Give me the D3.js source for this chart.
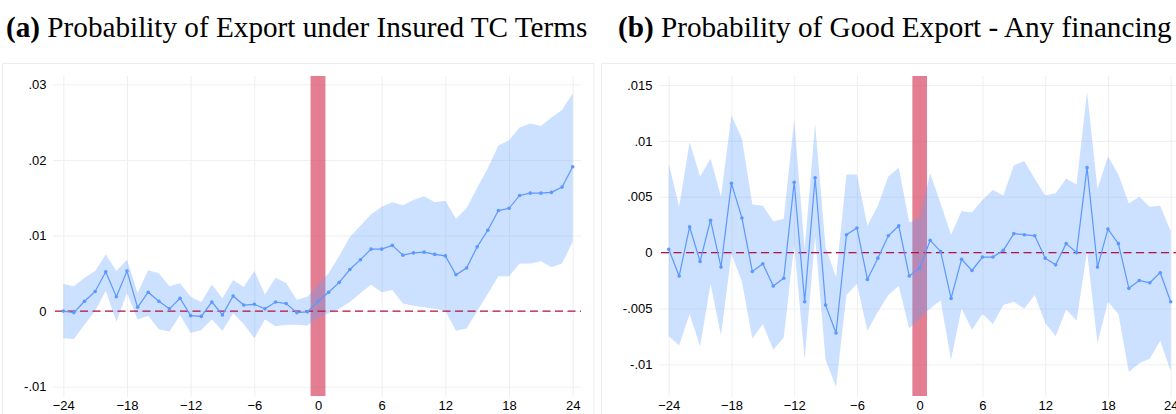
<!DOCTYPE html>
<html><head><meta charset="utf-8">
<script src="https://cdn.jsdelivr.net/npm/d3@7"></script>
<style>body{margin:0;background:#fff} svg{display:block}</style>
</head><body><svg id="chart" width="1176" height="414"></svg>
<script>
// ---------- data ----------
const periods = [-24,-23,-22,-21,-20,-19,-18,-17,-16,-15,-14,-13,-12,-11,-10,-9,-8,-7,-6,-5,-4,-3,-2,-1,0,1,2,3,4,5,6,7,8,9,10,11,12,13,14,15,16,17,18,19,20,21,22,23,24];
const xTicks = [-24,-18,-12,-6,0,6,12,18,24];

const titleATag = "(a)";
const titleAText = " Probability of Export under Insured TC Terms";
const titleBTag = "(b)";
const titleBText = " Probability of Good Export - Any financing";

const estA = [0,-0.0002,0.0013,0.0026,0.0052,0.0019,0.0053,0.0005,0.0025,0.0013,0.0003,0.0017,-0.0006,-0.0007,0.0012,-0.0005,0.0020,0.0008,0.0009,0.0003,0.0012,0.0010,-0.0002,-0.0001,
  0.0013,0.0025,0.0038,0.0055,0.0068,0.0082,0.0082,0.0087,0.0074,0.0077,0.0078,0.0075,0.0073,0.0048,0.0057,0.0085,0.0107,0.0133,0.0136,0.0153,0.0156,0.0156,0.0157,0.0164,0.0191];
const hiA = [0.0036,0.0033,0.0044,0.0053,0.0075,0.0053,0.0068,0.0024,0.0054,0.0050,0.0033,0.0037,0.0019,0.0012,0.0035,0.0017,0.0041,0.0032,0.0053,0.0022,0.0044,0.0037,0.0015,0.0019,
  0.0034,0.0050,0.0073,0.0098,0.0113,0.0128,0.0138,0.0144,0.0140,0.0147,0.0152,0.0144,0.0146,0.0122,0.0136,0.0163,0.0189,0.0219,0.0226,0.0243,0.0248,0.0245,0.0256,0.0266,0.0288];
const loA = [-0.0036,-0.0037,-0.0018,0.0000,0.0027,-0.0014,0.0024,-0.0011,-0.0006,-0.0024,-0.0027,-0.0005,-0.0029,-0.0025,-0.0011,-0.0026,-0.0003,-0.0017,-0.0036,-0.0011,-0.0020,-0.0018,-0.0018,-0.0019,
  -0.0009,-0.0003,0.0003,0.0012,0.0024,0.0035,0.0025,0.0028,0.0010,0.0007,0.0005,0.0003,0.0000,-0.0026,-0.0023,0.0000,0.0023,0.0046,0.0046,0.0063,0.0063,0.0066,0.0058,0.0063,0.0092];
const yTicksA = [-0.01,0,0.01,0.02,0.03];
const yLabelsA = ["-.01","0",".01",".02",".03"];

const estB = [0.0003,-0.0021,0.0023,-0.0008,0.0029,-0.0013,0.0062,0.0031,-0.0017,-0.0010,-0.0030,-0.0023,0.0063,-0.0044,0.0067,-0.0047,-0.0072,0.0016,0.0022,-0.0024,-0.0005,0.0015,0.0024,-0.0021,
  -0.0014,0.0011,0.0001,-0.0041,-0.0006,-0.0016,-0.0004,-0.0004,0.0002,0.0017,0.0016,0.0015,-0.0005,-0.0011,0.0008,0.0000,0.0076,-0.0013,0.0021,0.0008,-0.0032,-0.0025,-0.0027,-0.0018,-0.0044];
const hiB = [0.0080,0.0041,0.0099,0.0068,0.0084,0.0050,0.0123,0.0102,0.0043,0.0042,0.0028,0.0030,0.0119,0.0003,0.0115,0.0005,-0.0022,0.0070,0.0070,0.0024,0.0042,0.0068,0.0076,0.0027,
  0.0031,0.0071,0.0044,0.0016,0.0037,0.0036,0.0047,0.0056,0.0051,0.0078,0.0082,0.0066,0.0051,0.0053,0.0066,0.0061,0.0144,0.0057,0.0086,0.0070,0.0044,0.0050,0.0041,0.0042,0.0019];
const loB = [-0.0075,-0.0083,-0.0055,-0.0084,-0.0028,-0.0074,-0.0001,-0.0026,-0.0077,-0.0064,-0.0087,-0.0076,0.0007,-0.0096,0.0014,-0.0096,-0.0120,-0.0038,-0.0028,-0.0070,-0.0053,-0.0038,-0.0030,-0.0068,
  -0.0059,-0.0050,-0.0043,-0.0096,-0.0050,-0.0069,-0.0055,-0.0064,-0.0047,-0.0044,-0.0050,-0.0038,-0.0063,-0.0075,-0.0051,-0.0061,0.0001,-0.0081,-0.0044,-0.0055,-0.0107,-0.0099,-0.0095,-0.0079,-0.0106];
const yTicksB = [-0.01,-0.005,0,0.005,0.01,0.015];
const yLabelsB = ["-.01","-.005","0",".005",".01",".015"];

const eventWindow = [-0.7, 0.7];

// ---------- drawing ----------
const svg = d3.select("#chart");
const tickFont = "'Liberation Sans', Arial, sans-serif";
const serif = "'Liberation Serif', 'Times New Roman', serif";

function title(x, tag, text) {
  const t = svg.append("text").attr("x", x).attr("y", 37)
    .style("font-family", serif).style("font-size", "29.2px").attr("fill", "#000");
  t.append("tspan").attr("font-weight", "bold").text(tag);
  t.append("tspan").text(text);
}
title(6, titleATag, titleAText);
title(618, titleBTag, titleBText);

function panel(cfg) {
  const g = svg.append("g");
  const x = d3.scaleLinear().domain([-24, 24]).range(cfg.xr);
  const y = d3.scaleLinear().domain([cfg.yTicks[0], cfg.yTicks[cfg.yTicks.length-1]]).range(cfg.yr);

  // outer frame
  g.append("rect").attr("x", cfg.frame[0]).attr("y", cfg.frame[1]).attr("width", cfg.frame[2]).attr("height", cfg.frame[3])
    .attr("fill", "none").attr("stroke", "#ededed").attr("stroke-width", 1);

  // y grid
  g.append("g").attr("transform", `translate(${cfg.left},0)`)
    .call(d3.axisLeft(y).tickValues(cfg.yTicks).tickSize(-(cfg.right - cfg.left)).tickFormat(""))
    .call(a => a.select(".domain").remove())
    .call(a => a.selectAll("line").attr("stroke", "#efefef").attr("stroke-width", 1));
  // x grid
  g.append("g").attr("transform", `translate(0,${cfg.top})`)
    .call(d3.axisBottom(x).tickValues(xTicks).tickSize(cfg.bottom - cfg.top).tickFormat(""))
    .call(a => a.select(".domain").remove())
    .call(a => a.selectAll("line").attr("stroke", "#efefef").attr("stroke-width", 1));

  // y labels
  g.append("g").attr("transform", `translate(${cfg.left - 4},0)`)
    .call(d3.axisLeft(y).tickValues(cfg.yTicks).tickSize(0).tickPadding(2.5).tickFormat((d, i) => cfg.yLabels[i]))
    .call(a => a.select(".domain").remove())
    .call(a => a.selectAll("text").style("font-family", tickFont).style("font-size", "13px").attr("fill", "#000"));
  // x labels
  g.append("g").attr("transform", `translate(0,${cfg.bottom})`)
    .call(d3.axisBottom(x).tickValues(xTicks).tickSize(0).tickPadding(4))
    .call(a => a.select(".domain").remove())
    .call(a => a.selectAll("text").style("font-family", tickFont).style("font-size", "13px").attr("fill", "#000"));

  // event bar
  g.append("rect").attr("x", x(eventWindow[0])).attr("width", x(eventWindow[1]) - x(eventWindow[0]))
    .attr("y", cfg.top).attr("height", cfg.bottom - 1 - cfg.top)
    .attr("fill", "#d9536f").attr("fill-opacity", 0.75);

  const rows = periods.map((p, i) => ({p, e: cfg.est[i], hi: cfg.hi[i], lo: cfg.lo[i]}));
  // CI band
  g.append("path").datum(rows)
    .attr("d", d3.area().x(d => x(d.p)).y0(d => y(d.lo)).y1(d => y(d.hi)))
    .attr("fill", "rgb(100,160,255)").attr("fill-opacity", 0.33);
  // zero line
  g.append("line").attr("x1", cfg.left + 2).attr("x2", cfg.right).attr("y1", y(0)).attr("y2", y(0))
    .attr("stroke", "#b5123f").attr("stroke-width", 1.3).attr("stroke-dasharray", "8,4.5");
  // estimate line
  g.append("path").datum(rows)
    .attr("d", d3.line().x(d => x(d.p)).y(d => y(d.e)))
    .attr("fill", "none").attr("stroke", "#5b98ff").attr("stroke-width", 1.2);
  g.selectAll("circle.pt").data(rows).join("circle").attr("class", "pt")
    .attr("cx", d => x(d.p)).attr("cy", d => y(d.e)).attr("r", 1.8).attr("fill", "#5b98ff");
}

panel({xr: [63.3, 572.7], yr: [386.7, 84.3], left: 53, right: 581, top: 76, bottom: 397,
  frame: [2.5, 63.5, 591.5, 360], yTicks: yTicksA, yLabels: yLabelsA, est: estA, hi: hiA, lo: loA});
panel({xr: [668.7, 1170.7], yr: [364.3, 85], left: 659, right: 1180, top: 76, bottom: 397,
  frame: [601.5, 63.5, 590, 360], yTicks: yTicksB, yLabels: yLabelsB, est: estB, hi: hiB, lo: loB});
</script>
</body></html>
